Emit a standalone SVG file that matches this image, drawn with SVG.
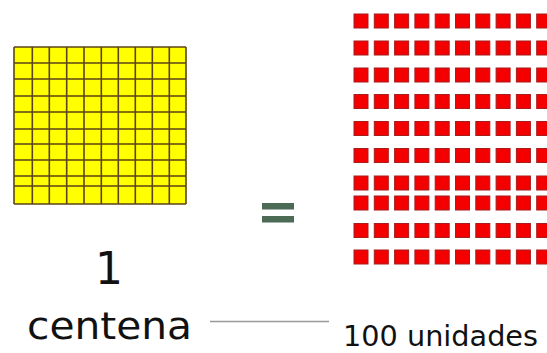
<svg xmlns="http://www.w3.org/2000/svg" width="547" height="353" viewBox="0 0 547 353">
<defs>
<style>
.g{stroke:#5c4418;stroke-width:1.6;fill:none}
.sq{fill:#f40000;stroke:#a81c1c;stroke-width:1}
.t{font-family:"DejaVu Sans","Liberation Sans",sans-serif;fill:#111}
.eq{fill:#4b6b56}
</style>
<rect id="u" class="sq" width="14" height="14"/>
<g id="row">
<use href="#u" x="354"/><use href="#u" x="374.3"/><use href="#u" x="394.6"/><use href="#u" x="414.9"/><use href="#u" x="435.2"/><use href="#u" x="455.5"/><use href="#u" x="475.8"/><use href="#u" x="496.1"/><use href="#u" x="516.4"/><use href="#u" x="536.7"/>
</g>
</defs>
<rect width="547" height="353" fill="#fff"/>
<g id="centena-block">
<rect x="14" y="47" width="172" height="157" fill="#ffff00"/>
<path class="g" d="M14 47V204M32.3 47V204M49.3 47V204M66.7 47V204M84 47V204M101.3 47V204M118.3 47V204M135.3 47V204M152.3 47V204M169.3 47V204M186 47V204M14 47H186M14 63H186M14 79H186M14 96H186M14 112H186M14 129H186M14 144H186M14 160H186M14 176H186M14 186H186M14 204H186"/>
</g>
<g id="unidades-block">
<use href="#row" y="14"/><use href="#row" y="41"/><use href="#row" y="68"/><use href="#row" y="94.5"/><use href="#row" y="121.5"/><use href="#row" y="148.5"/><use href="#row" y="176"/><use href="#row" y="196"/><use href="#row" y="223.5"/><use href="#row" y="250"/>
</g>
<g id="equals">
<rect class="eq" x="262" y="203" width="32" height="6.5"/>
<rect class="eq" x="262" y="216" width="32" height="6.5"/>
</g>
<g id="label-1">
<text class="t" x="109" y="284" font-size="44" text-anchor="middle">1</text>
</g>
<g id="label-centena">
<text class="t" x="27" y="339" font-size="38" textLength="165" lengthAdjust="spacingAndGlyphs">centena</text>
</g>
<g id="label-unidades">
<text class="t" x="343" y="346" font-size="28" textLength="195" lengthAdjust="spacingAndGlyphs">100 unidades</text>
</g>
<g id="connectors">
<line x1="210" y1="321.5" x2="329" y2="321.5" stroke="#999" stroke-width="1.5"/>
</g>
</svg>
